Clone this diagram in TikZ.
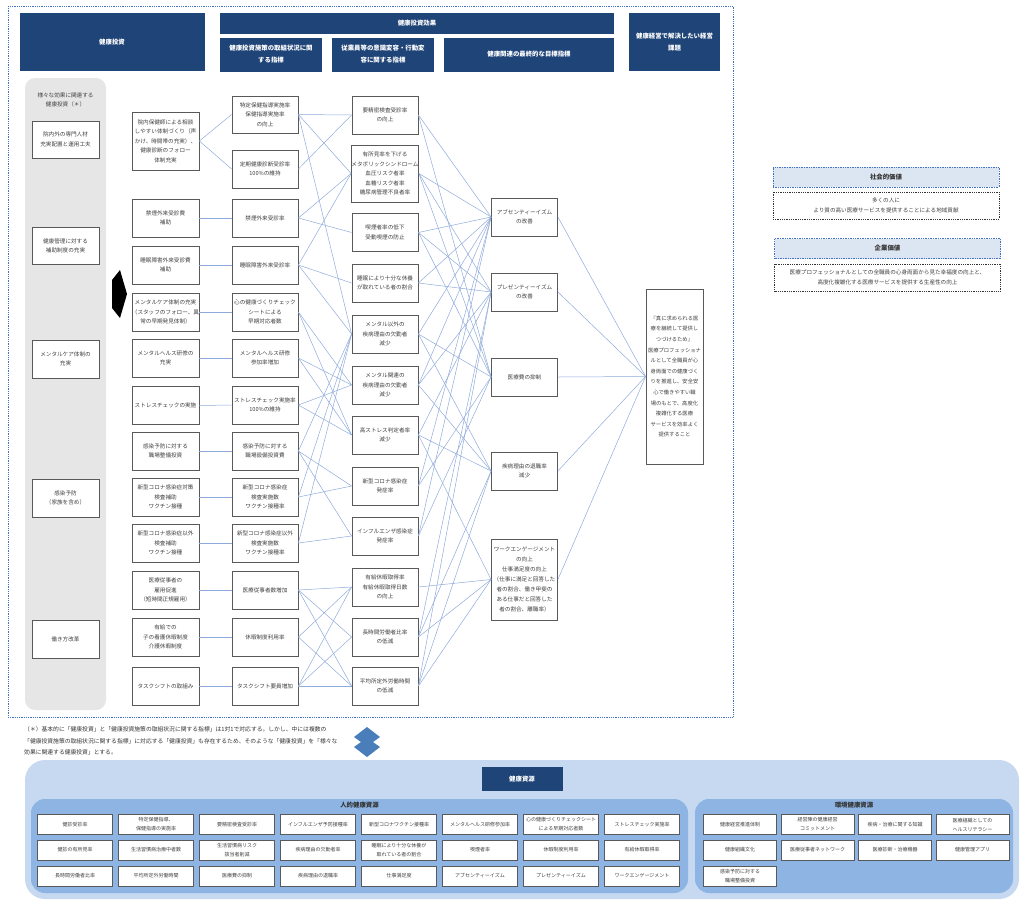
\documentclass[tikz,border=0pt]{standalone}
\usepackage{fontspec}
\setmainfont{Noto Sans CJK JP}
\definecolor{navy}{HTML}{1F4478}
\definecolor{linkblue}{HTML}{8FAADC}
\definecolor{boxline}{HTML}{595959}
\definecolor{panelgrey}{HTML}{E7E6E6}
\definecolor{framedot}{HTML}{4472C4}
\definecolor{respale}{HTML}{C6D9F0}
\definecolor{resmid}{HTML}{8DB4E2}
\definecolor{valuefill}{HTML}{DCE6F2}
\definecolor{arrowblue}{HTML}{4A7EBB}
\newcommand{\boxfont}{\fontsize{5.6}{9.5}\selectfont}
\newcommand{\hdrfont}{\fontsize{6.4}{12}\selectfont\bfseries}
\newcommand{\resfont}{\fontsize{5.0}{9}\selectfont}
\newcommand{\valfont}{\fontsize{5.6}{10}\selectfont}
\newcommand{\notefont}{\fontsize{5.8}{11.5}\selectfont}
\begin{document}
\begin{tikzpicture}[x=1pt, y=-1pt,
  hdr/.style={fill=navy, text=white, font=\hdrfont, align=center, inner sep=0pt},
  ibox/.style={draw=boxline, line width=0.8pt, fill=white, text=black!75, align=center, font=\boxfont, inner sep=0pt, minimum width=66pt, minimum height=38pt},
  link/.style={draw=linkblue, line width=0.5pt},
  rbox/.style={draw=boxline, line width=0.6pt, fill=white, text=black!75, align=center, font=\resfont, inner sep=0pt, minimum width=75pt, minimum height=20pt},
  ebox/.style={rbox, minimum width=73pt},
  vtitle/.style={fill=valuefill, draw=framedot, densely dotted, line width=0.7pt, font=\hdrfont, text=black!80, inner sep=0pt, minimum width=226pt, minimum height=20pt},
  vtext/.style={draw=black!80, densely dotted, line width=0.8pt, fill=white, text=black!75, align=center, font=\valfont, inner sep=0pt, minimum width=226pt, minimum height=27pt}]
\useasboundingbox (0,0) rectangle (1024,903);
\draw[framedot, densely dotted, line width=0.8pt] (8,6) rectangle (733,717);
\node[hdr, minimum width=185pt, minimum height=58pt] (T1) at (112,42) {健康投資};
\node[hdr, minimum width=394pt, minimum height=21pt] (T2) at (417,23.5) {健康投資効果};
\node[hdr, minimum width=102pt, minimum height=34pt] (T3) at (271,54.5) {健康投資施策の取組状況に関\\する指標};
\node[hdr, minimum width=102pt, minimum height=34pt] (T4) at (383,54.5) {従業員等の意識変容・行動変\\容に関する指標};
\node[hdr, minimum width=170pt, minimum height=34pt] (T5) at (529,54.5) {健康関連の最終的な目標指標};
\node[hdr, minimum width=91pt, minimum height=58pt] (T6) at (674.5,42) {健康経営で解決したい経営\\課題};
\fill[panelgrey, rounded corners=10pt] (25,78) rectangle (106,710);
\node[font=\boxfont, text=black!75, align=center] (A0) at (65.5,100) {様々な効果に関連する\\健康投資（＊）};
\node[ibox, minimum width=67pt, minimum height=37pt] (A1) at (65.5,139.5) {院内外の専門人材\\充実配置と運用工夫};
\node[ibox, minimum width=67pt, minimum height=37pt] (A2) at (65.5,246) {健康管理に対する\\補助制度の充実};
\node[ibox, minimum width=67pt, minimum height=38pt] (A3) at (65.5,359) {メンタルケア体制の\\充実};
\node[ibox, minimum width=67pt, minimum height=38pt] (A4) at (65.5,498) {感染予防\\（家族を含め）};
\node[ibox, minimum width=67pt, minimum height=38pt] (A5) at (65.5,639) {働き方改革};
\fill[black] (112,280) -- (120,270) -- (127,294) -- (120,318) -- (112,308) -- cycle;
\node[ibox, minimum width=67pt, minimum height=58pt] (B1) at (165.5,141) {院内保健師による相談\\しやすい体制づくり（声\\かけ、時間帯の充実）、\\健康診断のフォロー\\体制充実};
\node[ibox, minimum width=67pt] (B2) at (165.5,218) {禁煙外来受診費\\補助};
\node[ibox, minimum width=67pt] (B3) at (165.5,265) {睡眠障害外来受診費\\補助};
\node[ibox, minimum width=67pt] (B4) at (165.5,312) {メンタルケア体制の充実\\（スタッフのフォロー、異\\常の早期発見体制）};
\node[ibox, minimum width=67pt] (B5) at (165.5,358) {メンタルヘルス研修の\\充実};
\node[ibox, minimum width=67pt] (B6) at (165.5,405.5) {ストレスチェックの実施};
\node[ibox, minimum width=67pt] (B7) at (165.5,451) {感染予防に対する\\職場整備投資};
\node[ibox, minimum width=67pt] (B8) at (165.5,497) {新型コロナ感染症対策\\検査補助\\ワクチン接種};
\node[ibox, minimum width=67pt] (B9) at (165.5,543) {新型コロナ感染症以外\\検査補助\\ワクチン接種};
\node[ibox, minimum width=67pt] (B10) at (165.5,590) {医療従事者の\\雇用促進\\（短時間正規雇用）};
\node[ibox, minimum width=67pt] (B11) at (165.5,637) {有給での\\子の看護休暇制度\\介護休暇制度};
\node[ibox, minimum width=67pt] (B12) at (165.5,686) {タスクシフトの取組み};
\node[ibox, minimum height=37pt] (C1) at (265,114.5) {特定保健指導実施率\\保健指導実施率\\の向上};
\node[ibox] (C2) at (265,169) {定期健康診断受診率\\100\%の維持};
\node[ibox] (C3) at (265,218) {禁煙外来受診率};
\node[ibox] (C4) at (265,265) {睡眠障害外来受診率};
\node[ibox] (C5) at (265,312) {心の健康づくりチェック\\シートによる\\早期対応者数};
\node[ibox] (C6) at (265,358) {メンタルヘルス研修\\参加率増加};
\node[ibox] (C7) at (265,405) {ストレスチェック実施率\\100\%の維持};
\node[ibox] (C8) at (265,451) {感染予防に対する\\職場設備投資費};
\node[ibox] (C9) at (265,497) {新型コロナ感染症\\検査実施数\\ワクチン接種率};
\node[ibox] (C10) at (265,543) {新型コロナ感染症以外\\検査実施数\\ワクチン接種率};
\node[ibox] (C11) at (265,590) {医療従事者数増加};
\node[ibox] (C12) at (265,637) {休暇制度利用率};
\node[ibox] (C13) at (265,686) {タスクシフト要員増加};
\node[ibox] (D1) at (385,115) {要精密検査受診率\\の向上};
\node[ibox, minimum height=57pt] (D2) at (385,173.5) {有所見率を下げる\\メタボリックシンドローム\\血圧リスク者率\\血糖リスク者率\\糖尿病管理不良者率};
\node[ibox] (D3) at (385,232.5) {喫煙者率の低下\\受動喫煙の防止};
\node[ibox] (D4) at (385,283) {睡眠により十分な休養\\が取れている者の割合};
\node[ibox] (D5) at (385,334) {メンタル以外の\\疾病理由の欠勤者\\減少};
\node[ibox] (D6) at (385,385) {メンタル関連の\\疾病理由の欠勤者\\減少};
\node[ibox] (D7) at (385,435) {高ストレス判定者率\\減少};
\node[ibox] (D8) at (385,486) {新型コロナ感染症\\発症率};
\node[ibox] (D9) at (385,536) {インフルエンザ感染症\\発症率};
\node[ibox] (D10) at (385,587) {有給休暇取得率\\有給休暇取得日数\\の向上};
\node[ibox] (D11) at (385,637) {長時間労働者比率\\の低減};
\node[ibox] (D12) at (385,686) {平均所定外労働時間\\の低減};
\node[ibox] (E1) at (524.5,217) {アブセンティーイズム\\の改善};
\node[ibox] (E2) at (524.5,292) {プレゼンティーイズム\\の改善};
\node[ibox] (E3) at (524.5,377) {医療費の抑制};
\node[ibox] (E4) at (524.5,471) {疾病理由の退職率\\減少};
\node[ibox, minimum height=81pt, font=\fontsize{5.6}{10}\selectfont] (E5) at (524.5,579.5) {ワークエンゲージメント\\の向上\\仕事満足度の向上\\（仕事に満足と回答した\\者の割合、働き甲斐の\\ある仕事だと回答した\\者の割合、離職率）};
\node[ibox, minimum width=57pt, minimum height=175pt, font=\fontsize{5.3}{10.6}\selectfont] (F) at (674.5,376.5) {『真に求められる医\\療を継続して提供し\\つづけるため』\\医療プロフェッショナ\\ルとして全職員が心\\身両面での健康づく\\りを推進し、安全安\\心で働きやすい職\\場のもとで、高度化\\複雑化する医療\\サービスを効率よく\\提供すること};
\draw[link] (B1.east) -- (C1.west);
\draw[link] (B1.east) -- (C2.west);
\draw[link] (B2.east) -- (C3.west);
\draw[link] (B3.east) -- (C4.west);
\draw[link] (B4.east) -- (C5.west);
\draw[link] (B5.east) -- (C6.west);
\draw[link] (B6.east) -- (C7.west);
\draw[link] (B7.east) -- (C8.west);
\draw[link] (B8.east) -- (C9.west);
\draw[link] (B9.east) -- (C10.west);
\draw[link] (B10.east) -- (C11.west);
\draw[link] (B11.east) -- (C12.west);
\draw[link] (B12.east) -- (C13.west);
\draw[link] (C1.east) -- (D1.west);
\draw[link] (C1.east) -- (D2.west);
\draw[link] (C1.east) -- (D5.west);
\draw[link] (C2.east) -- (D1.west);
\draw[link] (C3.east) -- (D2.west);
\draw[link] (C3.east) -- (D3.west);
\draw[link] (C4.east) -- (D2.west);
\draw[link] (C4.east) -- (D4.west);
\draw[link] (C4.east) -- (D5.west);
\draw[link] (C5.east) -- (D6.west);
\draw[link] (C5.east) -- (D7.west);
\draw[link] (C6.east) -- (D6.west);
\draw[link] (C6.east) -- (D7.west);
\draw[link] (C7.east) -- (D6.west);
\draw[link] (C7.east) -- (D7.west);
\draw[link] (C8.east) -- (D5.west);
\draw[link] (C8.east) -- (D8.west);
\draw[link] (C8.east) -- (D9.west);
\draw[link] (C9.east) -- (D5.west);
\draw[link] (C9.east) -- (D8.west);
\draw[link] (C10.east) -- (D5.west);
\draw[link] (C10.east) -- (D9.west);
\draw[link] (C11.east) -- (D10.west);
\draw[link] (C11.east) -- (D11.west);
\draw[link] (C11.east) -- (D12.west);
\draw[link] (C12.east) -- (D10.west);
\draw[link] (C12.east) -- (D12.west);
\draw[link] (C13.east) -- (D10.west);
\draw[link] (C13.east) -- (D11.west);
\draw[link] (C13.east) -- (D12.west);
\draw[link] (D1.east) -- (E1.west);
\draw[link] (D1.east) -- (E3.west);
\draw[link] (D2.east) -- (E1.west);
\draw[link] (D2.east) -- (E2.west);
\draw[link] (D2.east) -- (E3.west);
\draw[link] (D3.east) -- (E1.west);
\draw[link] (D3.east) -- (E2.west);
\draw[link] (D3.east) -- (E3.west);
\draw[link] (D4.east) -- (E1.west);
\draw[link] (D4.east) -- (E2.west);
\draw[link] (D5.east) -- (E1.west);
\draw[link] (D5.east) -- (E3.west);
\draw[link] (D5.east) -- (E4.west);
\draw[link] (D6.east) -- (E1.west);
\draw[link] (D6.east) -- (E2.west);
\draw[link] (D6.east) -- (E4.west);
\draw[link] (D7.east) -- (E2.west);
\draw[link] (D7.east) -- (E4.west);
\draw[link] (D7.east) -- (E5.west);
\draw[link] (D8.east) -- (E1.west);
\draw[link] (D8.east) -- (E3.west);
\draw[link] (D9.east) -- (E1.west);
\draw[link] (D9.east) -- (E3.west);
\draw[link] (D10.east) -- (E5.west);
\draw[link] (D11.east) -- (E2.west);
\draw[link] (D11.east) -- (E4.west);
\draw[link] (D11.east) -- (E5.west);
\draw[link] (D12.east) -- (E2.west);
\draw[link] (D12.east) -- (E4.west);
\draw[link] (D12.east) -- (E5.west);
\draw[link] (E1.east) -- (F.west);
\draw[link] (E2.east) -- (F.west);
\draw[link] (E3.east) -- (F.west);
\draw[link] (E4.east) -- (F.west);
\draw[link] (E5.east) -- (F.west);
\node[vtitle] (SV) at (886,177) {社会的価値};
\node[vtext] (SVt) at (886,205.5) {多くの人に\\より質の高い医療サービスを提供することによる地域貢献};
\node[vtitle] (CV) at (887.5,248.5) {企業価値};
\node[vtext] (CVt) at (887.5,277.5) {医療プロフェッショナルとしての全職員の心身両面から見た幸福度の向上と、\\高度化複雑化する医療サービスを提供する生産性の向上};
\node[font=\notefont, text=black!80, align=left, anchor=west, inner sep=0pt] (N) at (24,741) {（＊）基本的に「健康投資」と「健康投資施策の取組状況に関する指標」は1対1で対応する。しかし、中には複数の\\「健康投資施策の取組状況に関する指標」に対応する「健康投資」も存在するため、そのような「健康投資」を「様々な\\効果に関連する健康投資」とする。};
\fill[arrowblue] (367,727) -- (380,737) -- (373,742) -- (380,747) -- (367,757) -- (354,747) -- (361,742) -- (354,737) -- cycle;
\fill[respale, rounded corners=20pt] (25,760) rectangle (1019,899);
\fill[resmid, rounded corners=14pt] (31,799) rectangle (688,893);
\fill[resmid, rounded corners=14pt] (695,799) rectangle (1013,893);
\node[hdr, minimum width=81pt, minimum height=24pt] (RS) at (522,779) {健康資源};
\node[font=\hdrfont, text=black!80] (PH) at (359.5,805) {人的健康資源};
\node[font=\hdrfont, text=black!80] (PE) at (854,805) {環境健康資源};
\node[rbox] (H1) at (75,824.5) {健診受診率};
\node[rbox] (H2) at (156,824.5) {特定保健指導、\\保健指導の実施率};
\node[rbox] (H3) at (237,824.5) {要精密検査受診率};
\node[rbox] (H4) at (318,824.5) {インフルエンザ予防接種率};
\node[rbox] (H5) at (399,824.5) {新型コロナワクチン接種率};
\node[rbox] (H6) at (480,824.5) {メンタルヘルス研修参加率};
\node[rbox] (H7) at (561,824.5) {心の健康づくりチェックシート\\による早期対応者数};
\node[rbox] (H8) at (642,824.5) {ストレスチェック実施率};
\node[rbox] (H9) at (75,850) {健診の有所見率};
\node[rbox] (H10) at (156,850) {生活習慣病治療中者数};
\node[rbox] (H11) at (237,850) {生活習慣病リスク\\該当者削減};
\node[rbox] (H12) at (318,850) {疾病理由の欠勤者率};
\node[rbox] (H13) at (399,850) {睡眠により十分な休養が\\取れている者の割合};
\node[rbox] (H14) at (480,850) {喫煙者率};
\node[rbox] (H15) at (561,850) {休暇制度利用率};
\node[rbox] (H16) at (642,850) {有給休暇取得率};
\node[rbox] (H17) at (75,876) {長時間労働者比率};
\node[rbox] (H18) at (156,876) {平均所定外労働時間};
\node[rbox] (H19) at (237,876) {医療費の抑制};
\node[rbox] (H20) at (318,876) {疾病理由の退職率};
\node[rbox] (H21) at (399,876) {仕事満足度};
\node[rbox] (H22) at (480,876) {アブセンティーイズム};
\node[rbox] (H23) at (561,876) {プレゼンティーイズム};
\node[rbox] (H24) at (642,876) {ワークエンゲージメント};
\node[ebox] (K1) at (740,824.5) {健康経営推進体制};
\node[ebox] (K2) at (817.5,824.5) {経営陣の健康経営\\コミットメント};
\node[ebox] (K3) at (895,824.5) {疾病・治療に関する知識};
\node[ebox] (K4) at (972.5,824.5) {医療組織としての\\ヘルスリテラシー};
\node[ebox] (K5) at (740,850) {健康組織文化};
\node[ebox] (K6) at (817.5,850) {医療従事者ネットワーク};
\node[ebox] (K7) at (895,850) {医療診断・治療機器};
\node[ebox] (K8) at (972.5,850) {健康管理アプリ};
\node[ebox] (K9) at (740,876) {感染予防に対する\\職場整備投資};
\end{tikzpicture}
\end{document}
